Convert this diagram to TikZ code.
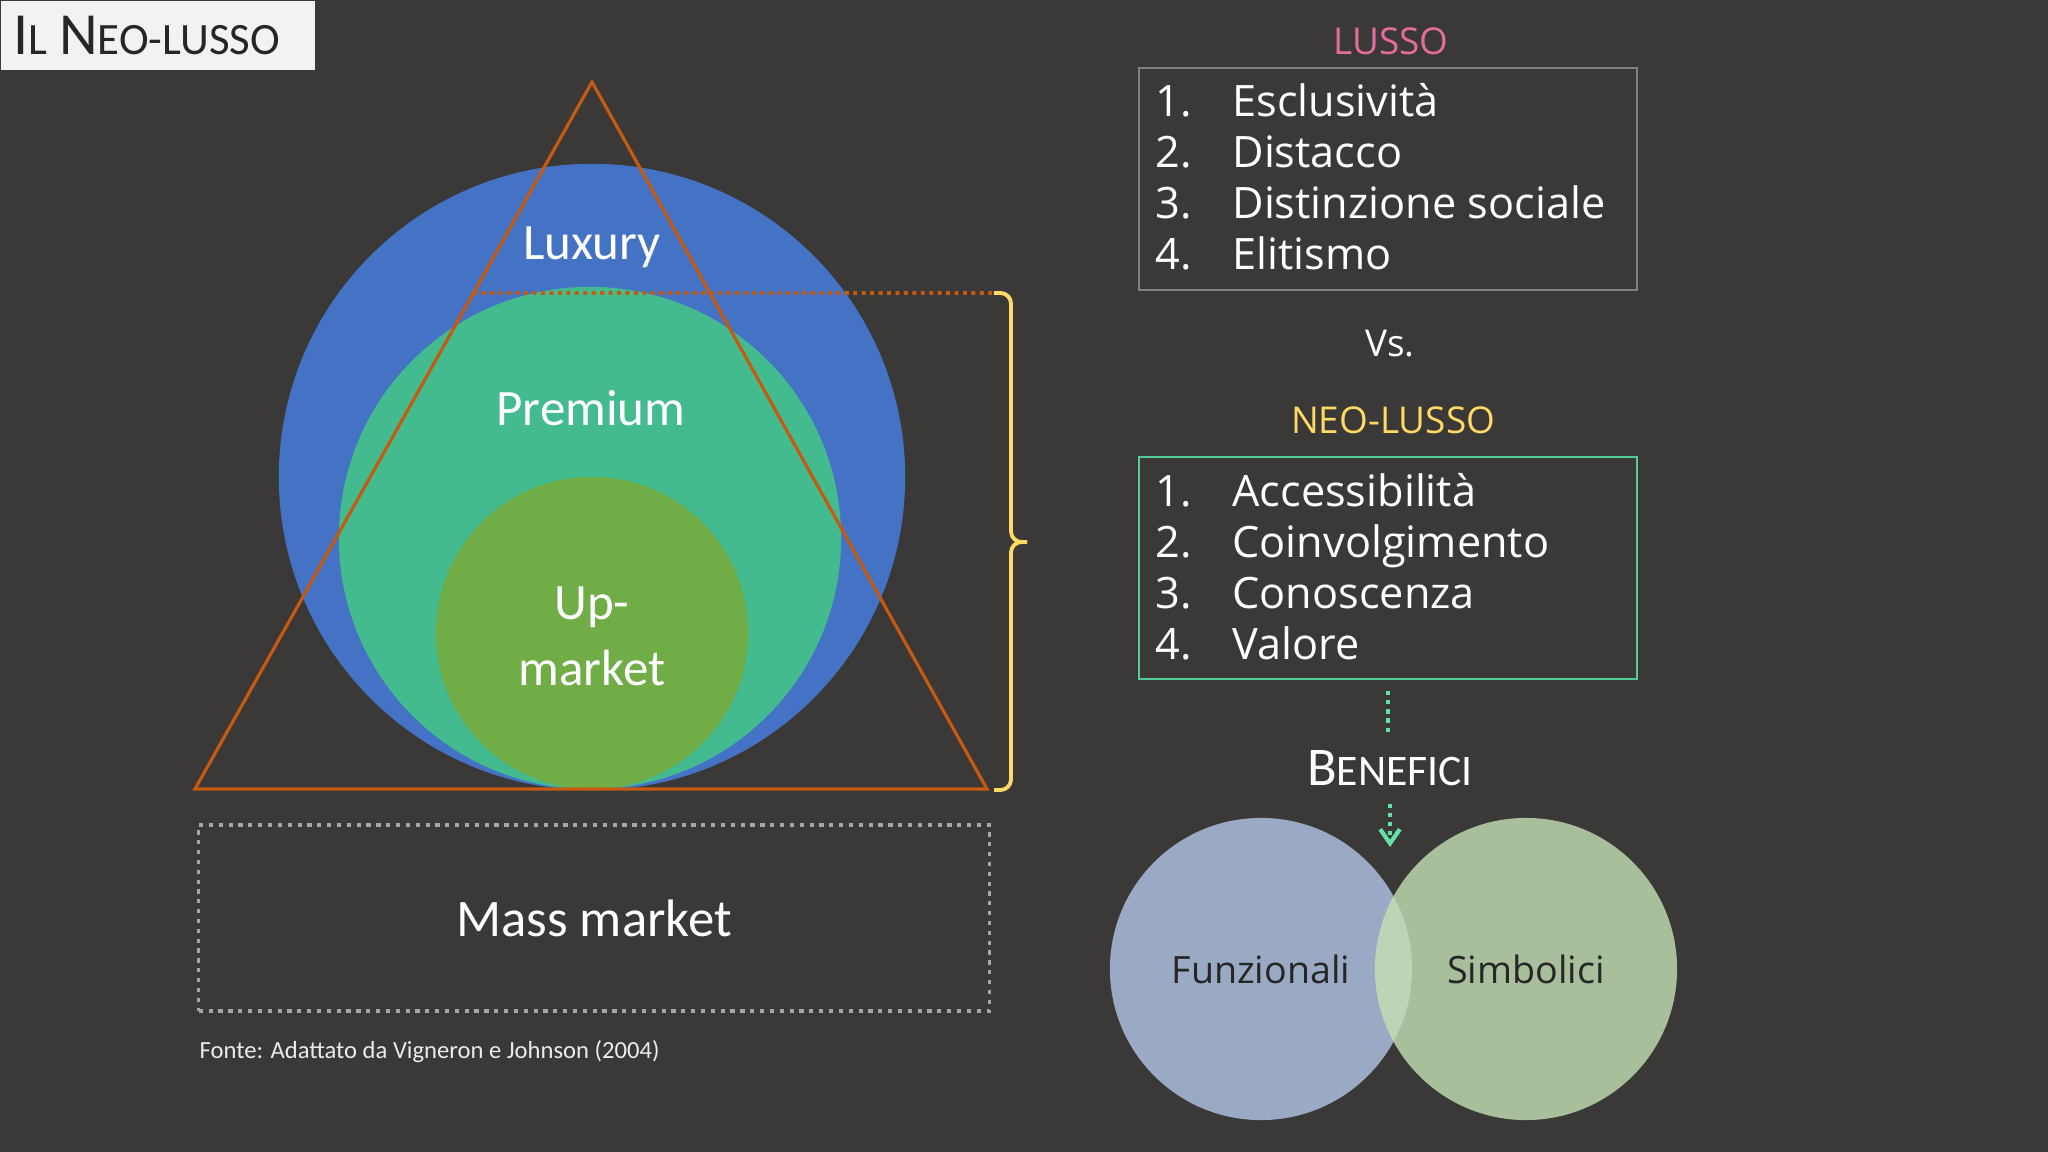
\documentclass[tikz,border=0pt]{standalone}
\usepackage{fontspec}
\setmainfont{Open Sans}
\newfontfamily\carlito{Carlito}
\usetikzlibrary{arrows.meta,positioning,calc}

\definecolor{slidebg}{HTML}{3B3838}
\definecolor{titlebg}{HTML}{F2F2F2}
\definecolor{titletext}{HTML}{262626}
\definecolor{luxblue}{HTML}{4472C4}
\definecolor{premgreen}{HTML}{44BA8F}
\definecolor{upgreen}{HTML}{70AD47}
\definecolor{triorange}{HTML}{C55A11}
\definecolor{brkyellow}{HTML}{FFD966}
\definecolor{lussopink}{HTML}{E46C9E}
\definecolor{neogreen}{HTML}{55CC96}
\definecolor{arrowgreen}{HTML}{62E2A6}
\definecolor{boxgray}{HTML}{808080}
\definecolor{massgray}{HTML}{A6A6A6}
\definecolor{funzblue}{HTML}{B4C7E7}
\definecolor{simbgreen}{HTML}{C5E0B4}

% fake small caps: first letter, rest, big size, small size
\newcommand{\scword}[4]{{\fontsize{#3}{#3}\selectfont #1}{\fontsize{#4}{#4}\selectfont #2}}

\begin{document}
\begin{tikzpicture}[
    x=0.01cm, y=-0.01cm,
    lbl/.style={text=white, font=\carlito\fontsize{14.5}{18.8}\selectfont, inner sep=0pt, align=center},
    disc/.style={circle, inner sep=0pt},
    tri/.style={draw=triorange, line width=0.9pt, line join=miter},
    cutline/.style={draw=triorange, line width=1.1pt, dash pattern=on 1.1pt off 1.3pt},
    brk/.style={draw=brkyellow, line width=1.1pt, rounded corners=3pt},
    massbox/.style={rectangle, draw=massgray, line width=0.9pt, dash pattern=on 1.2pt off 1.6pt, minimum width=7.9cm, minimum height=1.86cm, text=white, font=\carlito\fontsize{15}{18}\selectfont},
    listbox/.style={rectangle, line width=0.6pt, minimum width=4.98cm, minimum height=2.22cm, inner sep=0pt},
    listtext/.style={anchor=base west, inner sep=0pt, text=white, font=\fontsize{12.3}{14.5}\selectfont},
    head/.style={font=\fontsize{10.5}{12}\selectfont, inner sep=0pt, anchor=base},
    venn/.style={circle, minimum size=3.02cm, inner sep=0pt, fill opacity=0.8, text opacity=1, text=titletext, font=\fontsize{10.7}{12}\selectfont},
    dotline/.style={draw=arrowgreen, line width=1.2pt, dash pattern=on 1.2pt off 1.4pt}
]

% Slide background
\fill[slidebg] (0,0) rectangle (2048,1152);

% Title
\node[rectangle, fill=titlebg, anchor=north west, minimum width=3.14cm, minimum height=0.69cm, text width=2.88cm, inner xsep=0.13cm, align=left, text=titletext, font=\carlito] (title) at (0,0) {\scword{I}{L}{17pt}{12.75pt} \scword{N}{EO-LUSSO}{17pt}{12.75pt}};

% Market circles
\node[disc, fill=luxblue, minimum size=6.26cm] (luxury) at (592,477) {};
\node[disc, fill=premgreen, minimum size=5.02cm] (premium) at (590,538) {};
\node[disc, fill=upgreen, minimum size=3.12cm] (upmarket) at (592,633) {};

\node[lbl, anchor=base] (luxurylbl) at (592,260) {Luxury};
\node[lbl, anchor=base] (premiumlbl) at (591,426) {Premium};
\node[lbl] (upmarketlbl) at (592,636) {Up-\\market};

% Triangle
\coordinate (apex) at (592,82);
\coordinate (baseL) at (195,789);
\coordinate (baseR) at (987,789);
\draw[tri] (apex) -- (baseL) -- (baseR) -- cycle;

% Neo-luxury cut and bracket
\coordinate (cuttop) at ($(apex)!0.2984!(baseL)$);
\coordinate (brktop) at (994,293);
\coordinate (brkbot) at (994,790);
\coordinate (brktip) at (1027,542);
\draw[cutline] (cuttop) -- (brktop);
\draw[brk] (brktop) -- ++(17,0) |- (brktip);
\draw[brk] (brkbot) -- ++(17,0) |- (brktip);

% Mass market
\node[massbox] (mass) at (594,918) {Mass market};
\node[anchor=base west, inner sep=0pt, text=white!92!black, font=\carlito\fontsize{7}{8}\selectfont] (fonte) at (199,1058) {Fonte: Adattato da Vigneron e Johnson (2004)};

% Lusso vs neo-lusso
\node[head, text=lussopink] (lusso) at (1391,55) {LUSSO};
\node[listbox, draw=boxgray] (lussobox) at (1388,179) {};
\node[listtext] (lussolist) at ([shift={(17,50)}]lussobox.north west) {%
  \begin{tabular}[t]{@{}p{21.9pt}@{}l@{}}
  1. & Esclusività\\
  2. & Distacco\\
  3. & Distinzione sociale\\
  4. & Elitismo
  \end{tabular}};
\node[head, text=white] (vs) at (1390,357) {Vs.};
\node[head, text=brkyellow] (neolusso) at (1393,434) {NEO-LUSSO};
\node[listbox, draw=neogreen] (neobox) at (1388,568) {};
\node[listtext] (neolist) at ([shift={(17,51)}]neobox.north west) {%
  \begin{tabular}[t]{@{}p{21.9pt}@{}l@{}}
  1. & Accessibilità\\
  2. & Coinvolgimento\\
  3. & Conoscenza\\
  4. & Valore
  \end{tabular}};

% Benefici
\node[anchor=base, inner sep=0pt, text=white, font=\carlito] (benefici) at (1390,785) {\scword{B}{ENEFICI}{15.5pt}{12.4pt}};
\coordinate (benefitip) at (1390,847);
\draw[dotline, shorten <=3.1pt, shorten >=4pt] (neobox.south) -- (neobox.south |- benefici.north);
\draw[dotline, shorten <=5pt, -{Straight Barb[length=4pt, width=5.6pt, line width=1.2pt]}] (benefici.south) -- (benefitip);

\node[venn, fill=funzblue] (funz) at (1261,969) {Funzionali};
\node[venn, fill=simbgreen] (simb) at (1526,969) {Simbolici};

\end{tikzpicture}
\end{document}
